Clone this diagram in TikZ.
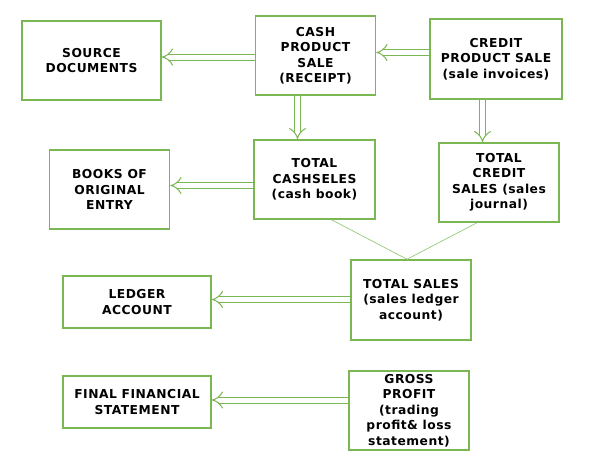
\documentclass[tikz,border=0pt]{standalone}
\usepackage{fontspec}
\setmainfont{DejaVu Sans}[LetterSpace=4]
\usetikzlibrary{arrows.meta}
\definecolor{boxgreen}{RGB}{122,182,82}
\definecolor{linegreen}{RGB}{150,200,120}
\tikzset{
  box/.style={draw=boxgreen,line width=1.5pt,align=center,inner sep=0pt,
    font=\fontsize{12.3}{15.5}\selectfont\bfseries},
  flow/.style={draw=boxgreen,line width=1pt,double=white,double distance=5pt,-{Implies}},
  link/.style={draw=linegreen,line width=0.7pt}
}
\begin{document}
\begin{tikzpicture}[x=1pt,y=-1pt]
    \useasboundingbox (0,0) rectangle (592,461);
    % Cajas
    \node[box,minimum width=139pt,minimum height=79pt] (source) at (91.5,60.5) {SOURCE\\DOCUMENTS};
    \node[box,minimum width=120pt,minimum height=79pt] (cash) at (315.5,55.5) {CASH\\PRODUCT\\SALE\\(RECEIPT)};
    \node[box,minimum width=132pt,minimum height=80pt] (credit) at (496,59) {CREDIT\\PRODUCT SALE\\(sale invoices)};
    \node[box,minimum width=120pt,minimum height=79pt] (books) at (109.5,189.5) {BOOKS OF\\ORIGINAL\\ENTRY};
    \node[box,minimum width=121pt,minimum height=79pt] (cashtot) at (314.5,179.5) {TOTAL\\CASHSELES\\(cash book)};
    \node[box,minimum width=120pt,minimum height=79pt] (credtot) at (499,182.5) {TOTAL\\CREDIT\\SALES (sales\\journal)};
    \node[box,minimum width=148pt,minimum height=52pt] (ledger) at (137,302) {LEDGER\\ACCOUNT};
    \node[box,minimum width=120pt,minimum height=80pt] (sales) at (411,300) {TOTAL SALES\\(sales ledger\\account)};
    \node[box,minimum width=148pt,minimum height=52pt] (final) at (137,402) {FINAL FINANCIAL\\STATEMENT};
    \node[box,minimum width=120pt,minimum height=79pt] (gross) at (409,410.5) {GROSS\\PROFIT\\(trading\\profit\& loss\\statement)};
    % Flechas
    \draw[flow] (cash.west |- 0,57) -- (source.east |- 0,57);
    \draw[flow] (credit.west |- 0,52.5) -- (cash.east |- 0,52.5);
    \draw[flow] (cash.south -| 297.5,0) -- (cashtot.north -| 297.5,0);
    \draw[flow] (credit.south -| 482.5,0) -- (credtot.north -| 482.5,0);
    \draw[flow] (cashtot.west |- 0,185.5) -- (books.east |- 0,185.5);
    \draw[flow] (sales.west |- 0,299.5) -- (ledger.east |- 0,299.5);
    \draw[flow] (gross.west |- 0,400) -- (final.east |- 0,400);
    % Líneas
    \draw[link] ([xshift=17pt]cashtot.south) -- ([xshift=-4pt]sales.north);
    \draw[link] ([xshift=-22pt]credtot.south) -- ([xshift=-4pt]sales.north);
\end{tikzpicture}
\end{document}
